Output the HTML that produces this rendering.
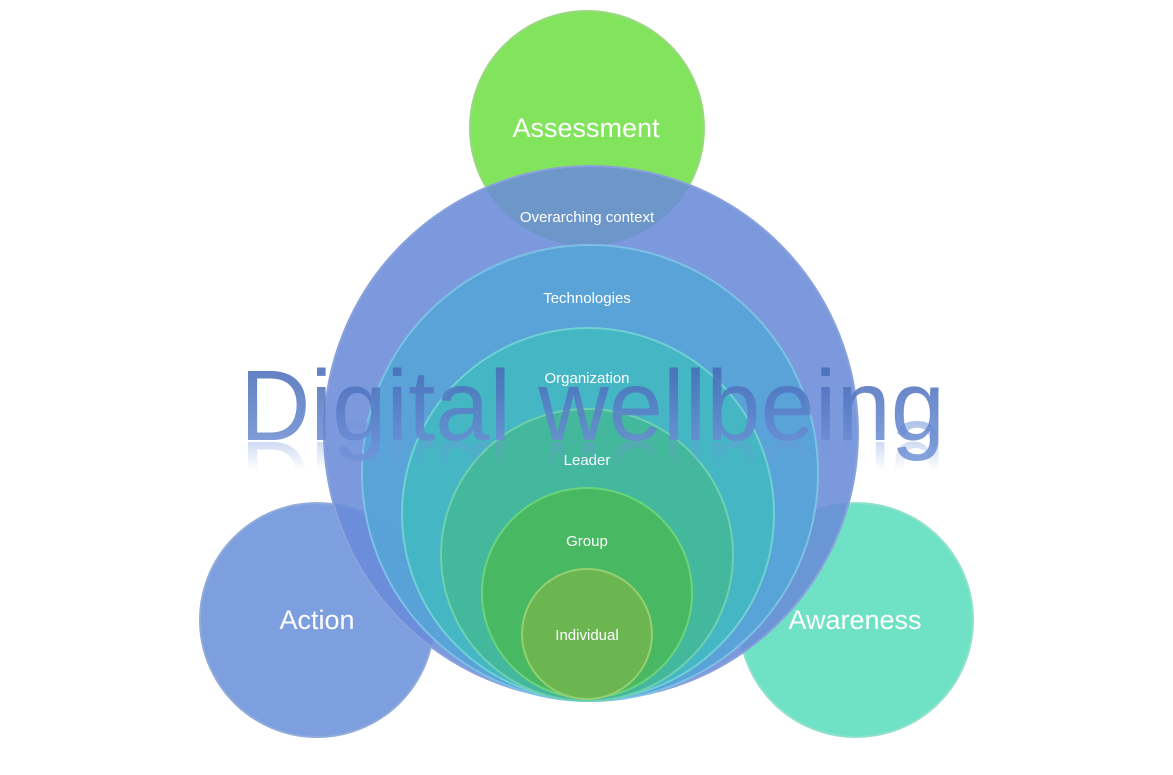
<!DOCTYPE html>
<html><head><meta charset="utf-8"><style>
html,body{margin:0;padding:0;background:#fff;}
svg{display:block;}
text{font-family:"Liberation Sans",sans-serif;}
</style></head><body>
<svg width="1173" height="775" viewBox="0 0 1173 775" xmlns="http://www.w3.org/2000/svg">
<defs>
<linearGradient id="tg" x1="0" y1="0" x2="0" y2="1">
<stop offset="0" stop-color="#3d62b0"/><stop offset="1" stop-color="#7394da"/>
</linearGradient>
<linearGradient id="rg" x1="0" y1="0" x2="0" y2="1">
<stop offset="0" stop-color="#7394da" stop-opacity="0"/><stop offset="0.55" stop-color="#7394da" stop-opacity="0"/><stop offset="1" stop-color="#7394da" stop-opacity="0.6"/>
</linearGradient>
</defs>
<circle cx="317" cy="620" r="117" fill="#7d9fe0" stroke="#90acd8" stroke-width="2"/>
<circle cx="856" cy="620" r="117" fill="#6fe2c6" stroke="#8fe0cc" stroke-width="2"/>
<circle cx="587" cy="128" r="117" fill="#82e45c" stroke="#9ad880" stroke-width="2"/>
<circle cx="591" cy="433" r="267" fill="#6a8bd8" fill-opacity="0.88" stroke="#8aa2dc" stroke-width="2"/>
<circle cx="590" cy="473" r="228" fill="#57a4d8" fill-opacity="0.92" stroke="#7cc0e6" stroke-width="2"/>
<circle cx="588" cy="514" r="186" fill="#45b6c4" stroke="#70d0d4" stroke-width="2"/>
<circle cx="587" cy="555" r="146" fill="#44b89c" stroke="#6ed0b0" stroke-width="2"/>
<circle cx="587" cy="593" r="105" fill="#48b862" stroke="#6ad47c" stroke-width="2"/>
<circle cx="587" cy="634" r="65" fill="#6cb652" stroke="#94d070" stroke-width="2"/>
<text x="586" y="137" font-size="27" fill="#fff" text-anchor="middle">Assessment</text>
<text x="317" y="629" font-size="27" fill="#fff" text-anchor="middle">Action</text>
<text x="855" y="629" font-size="27" fill="#fff" text-anchor="middle">Awareness</text>
<text x="587" y="222" font-size="15" fill="#fff" text-anchor="middle">Overarching context</text>
<text x="587" y="303" font-size="15" fill="#fff" text-anchor="middle">Technologies</text>
<text x="587" y="383" font-size="15" fill="#fff" text-anchor="middle">Organization</text>
<text x="587" y="465" font-size="15" fill="#fff" text-anchor="middle">Leader</text>
<text x="587" y="546" font-size="15" fill="#fff" text-anchor="middle">Group</text>
<text x="587" y="640" font-size="15" fill="#fff" text-anchor="middle">Individual</text>
<g transform="translate(0,882) scale(1,-1)">
<text x="240" y="440" font-size="100" fill="url(#rg)" textLength="705" lengthAdjust="spacingAndGlyphs">Digital wellbeing</text>
</g>
<text x="240" y="440" font-size="100" fill="url(#tg)" fill-opacity="0.85" textLength="705" lengthAdjust="spacingAndGlyphs">Digital wellbeing</text>
</svg>
</body></html>
